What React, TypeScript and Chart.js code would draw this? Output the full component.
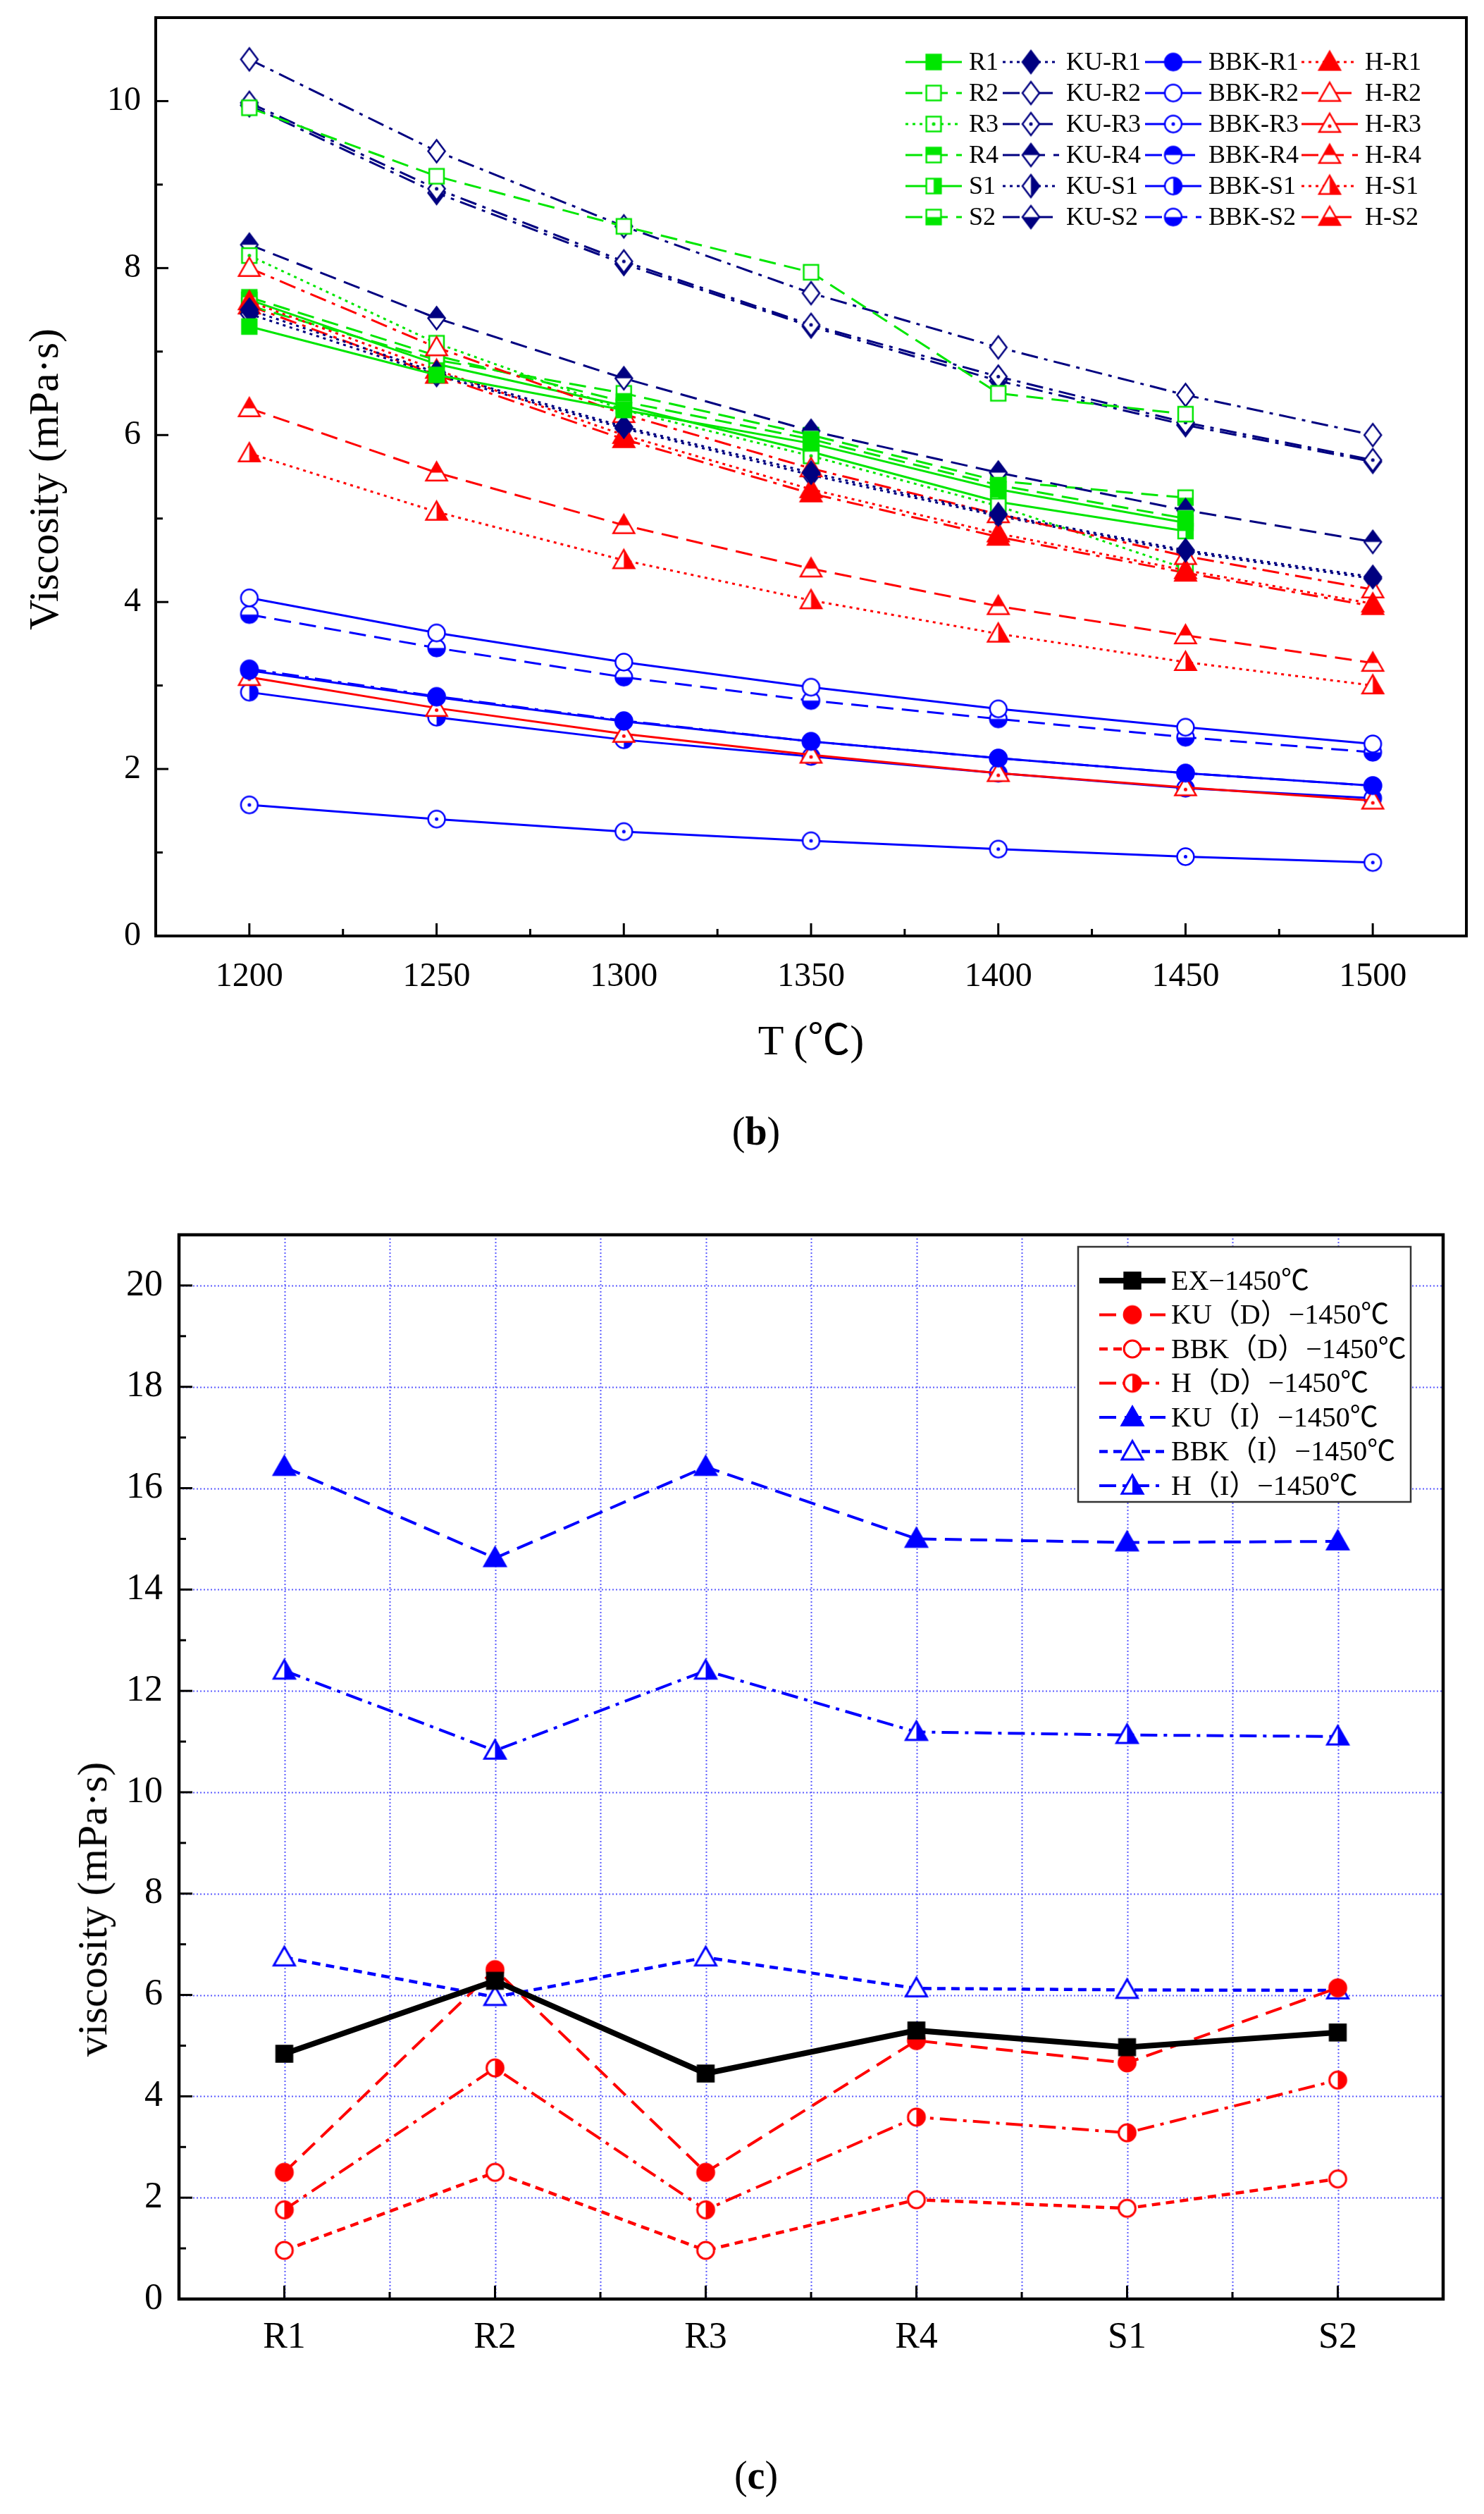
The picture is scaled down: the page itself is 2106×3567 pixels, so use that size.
import React, { useEffect, useRef } from 'react';
import { Chart, registerables } from 'chart.js';

Chart.register(...registerables);

const GREEN = '#00e600';
const NAVY = '#000080';
const BLUE = '#0000ff';
const RED = '#ff0000';
const FONT = "'Liberation Serif', 'Noto Sans CJK SC', serif";

// (b) viscosity vs temperature
const temps = [1200, 1250, 1300, 1350, 1400, 1450, 1500];

const slagR1 = [7.3, 6.72, 6.3, 5.9, 5.35, 4.95];
const slagR2 = [9.92, 9.1, 8.5, 7.95, 6.5, 6.25];
const slagR3 = [8.15, 7.1, 6.3, 5.75, 5.15, 4.4];
const slagR4 = [7.65, 6.95, 6.4, 5.95, 5.4, 5.0];
const slagS1 = [7.62, 6.85, 6.35, 5.8, 5.2, 4.85];
const slagS2 = [7.55, 6.9, 6.5, 6.0, 5.45, 5.25];

const kuR1 = [7.5, 6.75, 6.1, 5.55, 5.05, 4.62, 4.3];
const kuR2 = [10.5, 9.4, 8.5, 7.7, 7.05, 6.48, 6.0];
const kuR3 = [9.98, 8.95, 8.08, 7.32, 6.7, 6.15, 5.7];
const kuR4 = [8.28, 7.4, 6.68, 6.05, 5.55, 5.1, 4.72];
const kuS1 = [7.45, 6.72, 6.08, 5.52, 5.03, 4.6, 4.28];
const kuS2 = [9.95, 8.9, 8.05, 7.3, 6.65, 6.12, 5.68];

const bbkR1 = [3.18, 2.86, 2.57, 2.33, 2.13, 1.95, 1.8];
const bbkR2 = [4.05, 3.63, 3.28, 2.98, 2.72, 2.5, 2.3];
const bbkR3 = [1.57, 1.4, 1.25, 1.14, 1.04, 0.95, 0.88];
const bbkR4 = [3.2, 2.87, 2.58, 2.33, 2.13, 1.95, 1.8];
const bbkS1 = [2.92, 2.62, 2.35, 2.15, 1.95, 1.77, 1.65];
const bbkS2 = [3.85, 3.45, 3.1, 2.82, 2.6, 2.38, 2.2];

const hR1 = [7.6, 6.78, 6.0, 5.35, 4.82, 4.38, 3.98];
const hR2 = [8.0, 7.05, 6.25, 5.6, 5.05, 4.55, 4.15];
const hR3 = [3.1, 2.73, 2.42, 2.17, 1.95, 1.78, 1.62];
const hR4 = [6.32, 5.55, 4.92, 4.4, 3.95, 3.6, 3.27];
const hS1 = [5.78, 5.08, 4.5, 4.02, 3.62, 3.28, 3.0];
const hS2 = [7.55, 6.72, 5.95, 5.3, 4.78, 4.35, 3.95];

// (c) viscosity at 1450 °C per sample
const samples = ['R1', 'R2', 'R3', 'R4', 'S1', 'S2'];
const ex1450 = [4.84, 6.28, 4.45, 5.3, 4.97, 5.26];
const kuD1450 = [2.5, 6.5, 2.5, 5.1, 4.66, 6.14];
const bbkD1450 = [0.96, 2.5, 0.96, 1.96, 1.79, 2.37];
const hD1450 = [1.76, 4.56, 1.76, 3.59, 3.28, 4.32];
const kuI1450 = [16.42, 14.62, 16.42, 15.0, 14.93, 14.95];
const bbkI1450 = [6.74, 5.96, 6.74, 6.13, 6.1, 6.09];
const hI1450 = [12.4, 10.82, 12.4, 11.19, 11.13, 11.1];

type Shape = 'square' | 'diamond' | 'circle' | 'triangle';
type FillMode = 'full' | 'open' | 'dot' | 'top' | 'right' | 'bottom';

const DASH: Record<string, number[]> = {
  solid: [],
  dash: [24, 12],
  short: [12, 8],
  dot: [4, 6],
  dashdot: [24, 9, 5, 9],
};

// small offscreen canvas used as pointStyle
const makeMarker = (shape: Shape, mode: FillMode, color: string, size: number, lw = 2.5) => {
  const c = document.createElement('canvas');
  const dim = Math.ceil(size + lw * 2 + 4);
  c.width = dim;
  c.height = dim;
  const ctx = c.getContext('2d')!;
  const cx = dim / 2;
  const cy = dim / 2;
  const r = size / 2;
  const path = () => {
    ctx.beginPath();
    if (shape === 'square') {
      ctx.rect(cx - r * 0.8, cy - r * 0.8, r * 1.6, r * 1.6);
    } else if (shape === 'diamond') {
      ctx.moveTo(cx, cy - r);
      ctx.lineTo(cx + r * 0.75, cy);
      ctx.lineTo(cx, cy + r);
      ctx.lineTo(cx - r * 0.75, cy);
      ctx.closePath();
    } else if (shape === 'circle') {
      ctx.arc(cx, cy, r * 0.85, 0, Math.PI * 2);
    } else {
      ctx.moveTo(cx, cy - r);
      ctx.lineTo(cx + r, cy + r * 0.75);
      ctx.lineTo(cx - r, cy + r * 0.75);
      ctx.closePath();
    }
  };
  path();
  ctx.fillStyle = '#fff';
  ctx.fill();
  ctx.save();
  path();
  ctx.clip();
  ctx.fillStyle = color;
  if (mode === 'full') ctx.fillRect(0, 0, dim, dim);
  if (mode === 'top') ctx.fillRect(0, 0, dim, cy);
  if (mode === 'bottom') ctx.fillRect(0, cy, dim, dim);
  if (mode === 'right') ctx.fillRect(cx, 0, dim, dim);
  ctx.restore();
  if (mode === 'dot') {
    ctx.beginPath();
    ctx.fillStyle = color;
    ctx.arc(cx, shape === 'triangle' ? cy + r * 0.2 : cy, 2.5, 0, Math.PI * 2);
    ctx.fill();
  }
  path();
  ctx.strokeStyle = color;
  ctx.lineWidth = lw;
  ctx.stroke();
  return c;
};

const toPoints = (xs: number[], ys: number[]) => ys.map((y, i) => ({ x: xs[i], y }));

// inward ticks, optional dotted grid, frame
const axisFrame = (o: { major: number; minor: number; frame: number; grid?: boolean }) => ({
  id: 'axisFrame',
  beforeDatasetsDraw(chart: any) {
    if (!o.grid) return;
    const { ctx, chartArea: a } = chart;
    const xs = chart.scales.x;
    const ys = chart.scales.y;
    ctx.save();
    ctx.strokeStyle = '#5c5cff';
    ctx.lineWidth = 2;
    ctx.setLineDash([2, 3]);
    xs.ticks.forEach((t: any) => {
      const px = Math.round(xs.getPixelForValue(t.value)) + 0.5;
      if (px <= a.left + 2 || px >= a.right - 2) return;
      ctx.beginPath();
      ctx.moveTo(px, a.top);
      ctx.lineTo(px, a.bottom);
      ctx.stroke();
    });
    ys.ticks.forEach((t: any) => {
      if (!t.label) return;
      const py = Math.round(ys.getPixelForValue(t.value)) + 0.5;
      if (py <= a.top + 2 || py >= a.bottom - 2) return;
      ctx.beginPath();
      ctx.moveTo(a.left, py);
      ctx.lineTo(a.right, py);
      ctx.stroke();
    });
    ctx.restore();
  },
  afterDatasetsDraw(chart: any) {
    const { ctx, chartArea: a } = chart;
    const xs = chart.scales.x;
    const ys = chart.scales.y;
    ctx.save();
    ctx.strokeStyle = '#000';
    ctx.lineWidth = 3;
    xs.ticks.forEach((t: any) => {
      const px = xs.getPixelForValue(t.value);
      if (px <= a.left + 2 || px >= a.right - 2) return;
      ctx.beginPath();
      ctx.moveTo(px, a.bottom);
      ctx.lineTo(px, a.bottom - (t.label ? o.major : o.minor));
      ctx.stroke();
    });
    ys.ticks.forEach((t: any) => {
      const py = ys.getPixelForValue(t.value);
      if (py <= a.top + 2 || py >= a.bottom - 2) return;
      ctx.beginPath();
      ctx.moveTo(a.left, py);
      ctx.lineTo(a.left + (t.label ? o.major : o.minor), py);
      ctx.stroke();
    });
    ctx.lineWidth = o.frame;
    ctx.strokeRect(a.left, a.top, a.right - a.left, a.bottom - a.top);
    ctx.restore();
  },
});

type LegendLayout = {
  cols: number[];
  rowTop: number;
  rowStep: number;
  perRow: number;
  sample: number;
  textGap: number;
  fontSize: number;
  box?: [number, number, number, number];
};

const drawnLegend = (L: LegendLayout) => ({
  id: 'drawnLegend',
  afterDraw(chart: any) {
    const { ctx } = chart;
    ctx.save();
    if (L.box) {
      const [x0, y0, x1, y1] = L.box;
      ctx.fillStyle = '#fff';
      ctx.fillRect(x0, y0, x1 - x0, y1 - y0);
      ctx.strokeStyle = '#333';
      ctx.lineWidth = 2.5;
      ctx.strokeRect(x0, y0, x1 - x0, y1 - y0);
    }
    chart.data.datasets.forEach((ds: any, i: number) => {
      const col = i % L.perRow;
      const row = Math.floor(i / L.perRow);
      const x = L.cols[col];
      const y = L.rowTop + row * L.rowStep;
      ctx.strokeStyle = ds.borderColor;
      ctx.lineWidth = ds.borderWidth;
      ctx.setLineDash(ds.borderDash || []);
      ctx.beginPath();
      ctx.moveTo(x, y);
      ctx.lineTo(x + L.sample, y);
      ctx.stroke();
      ctx.setLineDash([]);
      const m = ds.pointStyle as HTMLCanvasElement;
      ctx.drawImage(m, x + L.sample / 2 - m.width / 2, y - m.height / 2);
      ctx.fillStyle = '#000';
      ctx.font = `${L.fontSize}px ${FONT}`;
      ctx.textBaseline = 'middle';
      ctx.textAlign = 'left';
      ctx.fillText(ds.label, x + L.sample + L.textGap, y + 2);
    });
    ctx.restore();
  },
});

// pin axis box sizes so the plot area lands where the figure has it
const fixWidth = (w: number) => (s: any) => {
  s.width = w;
  s.paddingTop = 0;
  s.paddingBottom = 0;
};
const fixHeight = (h: number) => (s: any) => {
  s.height = h;
  s.paddingLeft = 0;
  s.paddingRight = 0;
};

const TempChart = () => {
  const canvasRef = useRef<HTMLCanvasElement | null>(null);

  useEffect(() => {
    if (!canvasRef.current) return;
    const groups = [
      { key: 'R1', mode: 'full' as FillMode, slag: slagR1, ku: kuR1, bbk: bbkR1, h: hR1, dash: ['solid', 'dot', 'solid', 'dot'] },
      { key: 'R2', mode: 'open' as FillMode, slag: slagR2, ku: kuR2, bbk: bbkR2, h: hR2, dash: ['dash', 'dashdot', 'solid', 'dashdot'] },
      { key: 'R3', mode: 'dot' as FillMode, slag: slagR3, ku: kuR3, bbk: bbkR3, h: hR3, dash: ['dot', 'dashdot', 'solid', 'solid'] },
      { key: 'R4', mode: 'top' as FillMode, slag: slagR4, ku: kuR4, bbk: bbkR4, h: hR4, dash: ['dash', 'dash', 'dashdot', 'dash'] },
      { key: 'S1', mode: 'right' as FillMode, slag: slagS1, ku: kuS1, bbk: bbkS1, h: hS1, dash: ['solid', 'dot', 'solid', 'dot'] },
      { key: 'S2', mode: 'bottom' as FillMode, slag: slagS2, ku: kuS2, bbk: bbkS2, h: hS2, dash: ['dash', 'dashdot', 'dash', 'dashdot'] },
    ];
    const datasets: any[] = [];
    groups.forEach((g) => {
      const parts = [
        { label: g.key, ys: g.slag, color: GREEN, shape: 'square' as Shape, size: 26 },
        { label: `KU-${g.key}`, ys: g.ku, color: NAVY, shape: 'diamond' as Shape, size: 32 },
        { label: `BBK-${g.key}`, ys: g.bbk, color: BLUE, shape: 'circle' as Shape, size: 28 },
        { label: `H-${g.key}`, ys: g.h, color: RED, shape: 'triangle' as Shape, size: 30 },
      ];
      parts.forEach((p, k) => {
        datasets.push({
          label: p.label,
          data: toPoints(temps, p.ys),
          borderColor: p.color,
          backgroundColor: p.color,
          borderWidth: 3,
          borderDash: DASH[g.dash[k]],
          pointStyle: makeMarker(p.shape, g.mode, p.color, p.size),
          pointRadius: 10,
          fill: false,
          tension: 0,
        });
      });
    });

    const tickFont = { family: FONT, size: 48 };
    const chart = new Chart(canvasRef.current, {
      type: 'line',
      data: { datasets },
      options: {
        animation: false,
        responsive: true,
        maintainAspectRatio: false,
        events: [],
        layout: { padding: { top: 25, right: 25, left: 0, bottom: 0 } },
        plugins: { legend: { display: false }, tooltip: { enabled: false } },
        scales: {
          x: {
            type: 'linear',
            min: 1175,
            max: 1525,
            ticks: {
              stepSize: 25,
              autoSkip: false,
              maxRotation: 0,
              padding: 30,
              color: '#000',
              font: tickFont,
              callback: (v: any) => (Number(v) % 50 === 0 ? String(v) : ''),
            },
            grid: { display: false, drawTicks: false },
            border: { display: false },
            afterFit: fixHeight(212),
          },
          y: {
            type: 'linear',
            min: 0,
            max: 11,
            ticks: {
              stepSize: 1,
              autoSkip: false,
              padding: 21,
              color: '#000',
              font: tickFont,
              callback: (v: any) => (Number(v) % 2 === 0 ? String(v) : ''),
            },
            grid: { display: false, drawTicks: false },
            border: { display: false },
            afterFit: fixWidth(221),
          },
        },
      },
      plugins: [
        axisFrame({ major: 18, minor: 10, frame: 4 }),
        drawnLegend({
          cols: [1285, 1423, 1625, 1847],
          rowTop: 88,
          rowStep: 44,
          perRow: 4,
          sample: 80,
          textGap: 10,
          fontSize: 36,
        }),
      ],
    });
    return () => chart.destroy();
  }, []);

  return (
    <div style={{ position: 'absolute', left: 0, top: 0, width: 2106, height: 1540 }}>
      <canvas ref={canvasRef}></canvas>
    </div>
  );
};

const SampleChart = () => {
  const canvasRef = useRef<HTMLCanvasElement | null>(null);

  useEffect(() => {
    if (!canvasRef.current) return;
    const idx = samples.map((_, i) => i);
    const series = [
      { label: 'EX−1450℃', ys: ex1450, color: '#000', shape: 'square' as Shape, mode: 'full' as FillMode, dash: 'solid', width: 8, size: 28 },
      { label: 'KU（D）−1450℃', ys: kuD1450, color: RED, shape: 'circle' as Shape, mode: 'full' as FillMode, dash: 'dash', width: 4, size: 28 },
      { label: 'BBK（D）−1450℃', ys: bbkD1450, color: RED, shape: 'circle' as Shape, mode: 'open' as FillMode, dash: 'short', width: 4.5, size: 28 },
      { label: 'H（D）−1450℃', ys: hD1450, color: RED, shape: 'circle' as Shape, mode: 'right' as FillMode, dash: 'dashdot', width: 4, size: 28 },
      { label: 'KU（I）−1450℃', ys: kuI1450, color: BLUE, shape: 'triangle' as Shape, mode: 'full' as FillMode, dash: 'dash', width: 4, size: 30 },
      { label: 'BBK（I）−1450℃', ys: bbkI1450, color: BLUE, shape: 'triangle' as Shape, mode: 'open' as FillMode, dash: 'short', width: 4.5, size: 30 },
      { label: 'H（I）−1450℃', ys: hI1450, color: BLUE, shape: 'triangle' as Shape, mode: 'right' as FillMode, dash: 'dashdot', width: 4, size: 30 },
    ];
    const datasets = series.map((s) => ({
      label: s.label,
      data: toPoints(idx, s.ys),
      borderColor: s.color,
      backgroundColor: s.color,
      borderWidth: s.width,
      borderDash: DASH[s.dash],
      pointStyle: makeMarker(s.shape, s.mode, s.color, s.size, 3),
      pointRadius: 10,
      fill: false,
      tension: 0,
    }));

    const tickFont = { family: FONT, size: 52 };
    const chart = new Chart(canvasRef.current, {
      type: 'line',
      data: { datasets },
      options: {
        animation: false,
        responsive: true,
        maintainAspectRatio: false,
        events: [],
        layout: { padding: { top: 52, right: 58, left: 0, bottom: 0 } },
        plugins: { legend: { display: false }, tooltip: { enabled: false } },
        scales: {
          x: {
            type: 'linear',
            min: -0.5,
            max: 5.5,
            ticks: {
              stepSize: 0.5,
              autoSkip: false,
              maxRotation: 0,
              padding: 24,
              color: '#000',
              font: tickFont,
              callback: (v: any) => (Number.isInteger(Number(v)) ? samples[Number(v)] : ''),
            },
            grid: { display: false, drawTicks: false },
            border: { display: false },
            afterFit: fixHeight(305),
          },
          y: {
            type: 'linear',
            min: 0,
            max: 21,
            ticks: {
              stepSize: 1,
              autoSkip: false,
              padding: 23,
              color: '#000',
              font: tickFont,
              callback: (v: any) => (Number(v) % 2 === 0 ? String(v) : ''),
            },
            grid: { display: false, drawTicks: false },
            border: { display: false },
            afterFit: fixWidth(254),
          },
        },
      },
      plugins: [
        axisFrame({ major: 19, minor: 10, frame: 4.5, grid: true }),
        drawnLegend({
          cols: [1560],
          rowTop: 117,
          rowStep: 48.5,
          perRow: 1,
          sample: 94,
          textGap: 8,
          fontSize: 40,
          box: [1530, 69, 2002, 431],
        }),
      ],
    });
    return () => chart.destroy();
  }, []);

  return (
    <div style={{ position: 'absolute', left: 0, top: 1700, width: 2106, height: 1867 }}>
      <canvas ref={canvasRef}></canvas>
    </div>
  );
};

const textStyle = (x: number, y: number, size: number, rotate = false): React.CSSProperties => ({
  position: 'absolute',
  left: x,
  top: y,
  transform: `translate(-50%, -50%)${rotate ? ' rotate(-90deg)' : ''}`,
  whiteSpace: 'nowrap',
  fontFamily: FONT,
  fontSize: size,
  color: '#000',
  lineHeight: 1,
});

const App = () => {
  useEffect(() => {
    document.body.style.margin = '0';
    document.body.style.background = '#fff';
  }, []);

  return (
    <div style={{ position: 'relative', width: 2106, height: 3567, background: '#fff', overflow: 'hidden' }}>
      <TempChart />
      <div style={textStyle(62, 680, 60, true)}>Viscosity (mPa·s)</div>
      <div style={textStyle(1151, 1476, 60)}>T (℃)</div>
      <div style={textStyle(1073, 1605, 56)}>
        (<b>b</b>)
      </div>
      <SampleChart />
      <div style={textStyle(131, 2709, 60, true)}>viscosity (mPa·s)</div>
      <div style={textStyle(1073, 3512, 56)}>
        (<b>c</b>)
      </div>
    </div>
  );
};

export default App;
